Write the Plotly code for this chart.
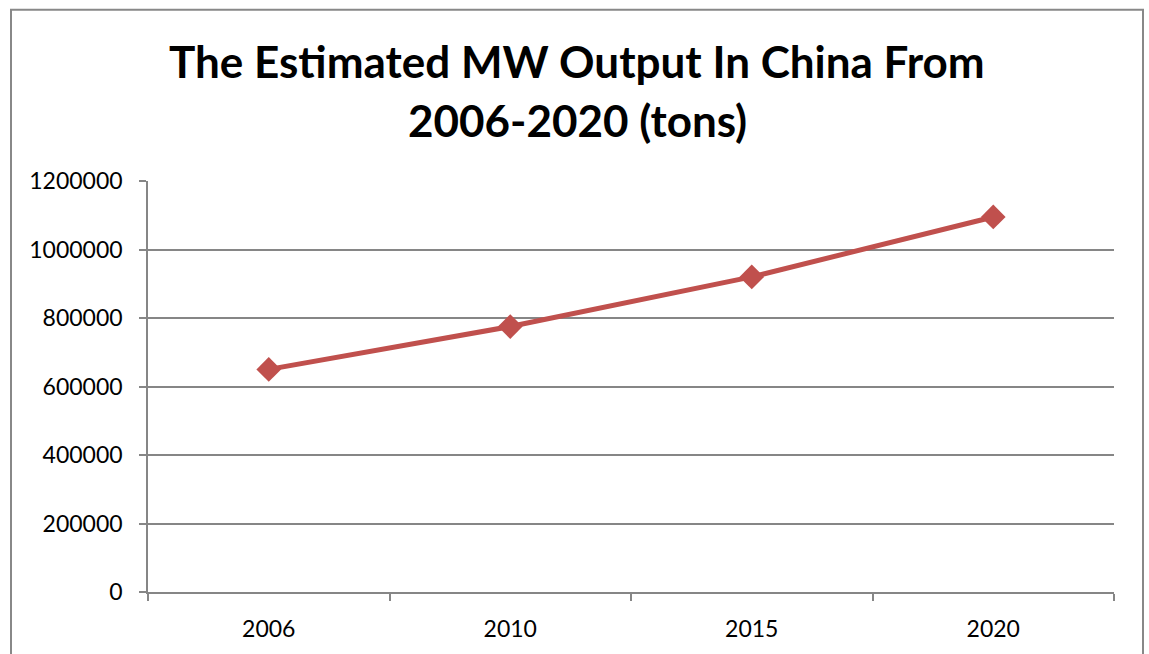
import plotly.graph_objects as go

years = ["2006", "2010", "2015", "2020"]
output_tons = [650000, 775000, 920000, 1095000]
y_ticks = [0, 200000, 400000, 600000, 800000, 1000000, 1200000]
title_lines = ["The Estimated MW Output In China From", "2006-2020 (tons)"]

W, H = 1149, 654
L, R, T, B = 148, 35, 181, 60
pw, ph = W - L - R, H - T - B

fig = go.Figure()
fig.add_trace(go.Scatter(
    x=years, y=output_tons, mode="lines+markers",
    line=dict(color="#C0504D", width=5),
    marker=dict(symbol="diamond", size=19, color="#C0504D"),
    showlegend=False, hoverinfo="skip",
))

font_family = "Lato"
fig.update_layout(
    width=W, height=H,
    margin=dict(l=L, r=R, t=T, b=B, pad=0),
    paper_bgcolor="white", plot_bgcolor="white",
    font=dict(family=font_family, color="#000000", size=23),
    xaxis=dict(type="category", range=[-0.5, 3.5], tickson="boundaries",
               ticks="outside", ticklen=7, tickcolor="#868686", tickwidth=1.5,
               showline=True, linecolor="#868686", linewidth=1.5,
               showgrid=False, zeroline=False,
               tickfont=dict(size=23, family=font_family), ticklabelstandoff=16),
    yaxis=dict(range=[0, 1200000], tickvals=y_ticks, ticktext=[str(v) for v in y_ticks],
               ticks="outside", ticklen=7, tickcolor="#868686", tickwidth=1.5,
               showline=True, linecolor="#868686", linewidth=1.5,
               showgrid=True, gridcolor="#868686", gridwidth=1.5,
               zeroline=False, tickfont=dict(size=23, family=font_family),
               ticklabelstandoff=12),
)

# title lines as annotations (centres in pixels from top)
for line, ypix in zip(title_lines, [60, 120]):
    fig.add_annotation(text="<b>" + line + "</b>", xref="paper", yref="paper",
                       x=(577 - L) / pw, y=(H - B - ypix) / ph,
                       xanchor="center", yanchor="middle", showarrow=False,
                       font=dict(family=font_family, size=44, color="#000000"))

fig.add_shape(type="rect", xref="paper", yref="paper",
              x0=(11 - L) / pw, x1=(1143 - L) / pw,
              y0=(H - B - 670) / ph, y1=(H - B - 9) / ph,
              line=dict(color="#888888", width=2), fillcolor="rgba(0,0,0,0)", layer="below")

fig.write_html("out.html")
